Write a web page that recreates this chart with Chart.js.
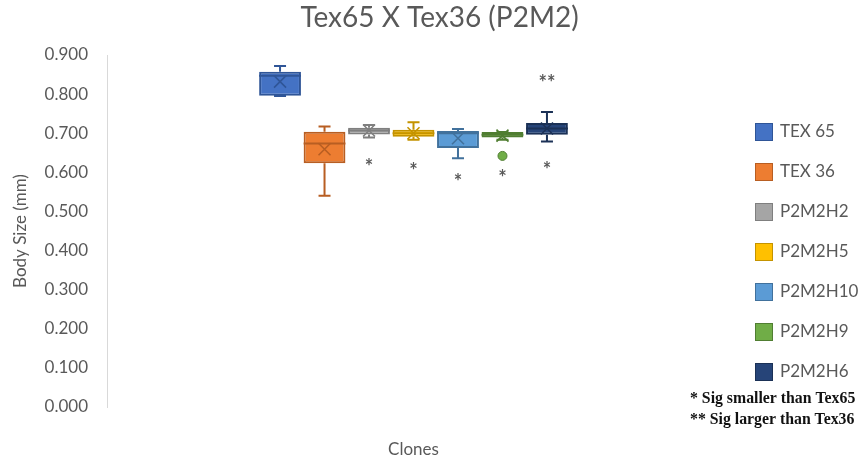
<!DOCTYPE html>
<html>
<head>
<meta charset="utf-8">
<script src="https://cdn.jsdelivr.net/npm/chart.js@4.4.0/dist/chart.umd.min.js"></script>
<style>
  html, body { margin: 0; padding: 0; background: #ffffff; }
  canvas { display: block; }
</style>
</head>
<body>
<canvas id="c" width="861" height="458"></canvas>
<script>
// Body size (mm) summary per clone
const clones      = ['TEX 65', 'TEX 36', 'P2M2H2', 'P2M2H5', 'P2M2H10', 'P2M2H9', 'P2M2H6'];
const whiskerLow  = [0.795, 0.540, 0.689, 0.683, 0.636, 0.683, 0.679];
const quartile1   = [0.796, 0.623, 0.697, 0.691, 0.662, 0.689, 0.696];
const medians     = [0.847, 0.674, 0.707, 0.700, 0.700, 0.696, 0.712];
const quartile3   = [0.857, 0.704, 0.714, 0.709, 0.706, 0.703, 0.726];
const whiskerHigh = [0.872, 0.717, 0.721, 0.728, 0.711, 0.703, 0.754];
const means       = [0.832, 0.659, 0.707, 0.700, 0.687, 0.694, 0.712];
const outliers    = [[], [], [], [], [], [0.642], []];
// significance annotations and the body-size level each one is written at
const sigBelow      = ['', '', '*', '*', '*', '*', '*'];
const sigBelowLevel = [null, null, 0.624, 0.614, 0.586, 0.598, 0.616];
const sigAbove      = ['', '', '', '', '', '', '**'];
const sigAboveLevel = [null, null, null, null, null, null, 0.840];
const yTickValues = [0, 0.1, 0.2, 0.3, 0.4, 0.5, 0.6, 0.7, 0.8, 0.9];
const chartTitle  = 'Tex65 X Tex36 (P2M2)';
const footnotes   = ['* Sig smaller than Tex65', '** Sig larger than Tex36'];

const fills   = ['#4472C4', '#ED7D31', '#A5A5A5', '#FFC000', '#5B9BD5', '#70AD47', '#264478'];
const strokes = ['#2F5597', '#B85E22', '#7F7F7F', '#C49300', '#41719C', '#507E32', '#1B3156'];
const textGrey = '#595959';
const FONT = 'Lato, "Open Sans", sans-serif';

const datasets = clones.map((name, i) => ({
  label: name,
  data: [[quartile1[i], quartile3[i]]],
  backgroundColor: fills[i],
  borderColor: strokes[i],
  borderWidth: 2,
  borderSkipped: false,
  categoryPercentage: 0.508,
  barPercentage: 0.94
}));

// Whiskers, medians, mean markers, outliers, significance marks, title, legend and footnotes
const boxExtras = {
  id: 'boxExtras',
  afterDatasetsDraw(chart) {
    const ctx = chart.ctx;
    const y = chart.scales.y;
    ctx.save();
    clones.forEach((name, i) => {
      const bar = chart.getDatasetMeta(i).data[0];
      const x = bar.x, w = bar.width;
      const cap = 6;
      ctx.strokeStyle = strokes[i];
      ctx.lineWidth = 2;
      ctx.beginPath();
      // median
      ctx.moveTo(x - w / 2, y.getPixelForValue(medians[i]));
      ctx.lineTo(x + w / 2, y.getPixelForValue(medians[i]));
      // upper whisker
      ctx.moveTo(x, y.getPixelForValue(quartile3[i]));
      ctx.lineTo(x, y.getPixelForValue(whiskerHigh[i]));
      ctx.moveTo(x - cap, y.getPixelForValue(whiskerHigh[i]));
      ctx.lineTo(x + cap, y.getPixelForValue(whiskerHigh[i]));
      // lower whisker
      ctx.moveTo(x, y.getPixelForValue(quartile1[i]));
      ctx.lineTo(x, y.getPixelForValue(whiskerLow[i]));
      ctx.moveTo(x - cap, y.getPixelForValue(whiskerLow[i]));
      ctx.lineTo(x + cap, y.getPixelForValue(whiskerLow[i]));
      ctx.stroke();
      // mean marker (x)
      const my = y.getPixelForValue(means[i]);
      const m = 6;
      ctx.lineWidth = 1.6;
      ctx.beginPath();
      ctx.moveTo(x - m, my - m); ctx.lineTo(x + m, my + m);
      ctx.moveTo(x + m, my - m); ctx.lineTo(x - m, my + m);
      ctx.stroke();
      // outliers
      outliers[i].forEach(v => {
        ctx.beginPath();
        ctx.arc(x, y.getPixelForValue(v), 4.5, 0, Math.PI * 2);
        ctx.fillStyle = fills[i];
        ctx.fill();
        ctx.lineWidth = 1;
        ctx.stroke();
      });
      // significance marks (asterisk glyph sits high in the em box)
      const fs = 20;
      ctx.fillStyle = textGrey;
      ctx.font = 'bold ' + fs + 'px ' + FONT;
      ctx.textAlign = 'center';
      ctx.textBaseline = 'alphabetic';
      if (sigBelow[i]) ctx.fillText(sigBelow[i], x, y.getPixelForValue(sigBelowLevel[i]) + 0.57 * fs);
      if (sigAbove[i]) ctx.fillText(sigAbove[i], x, y.getPixelForValue(sigAboveLevel[i]) + 0.57 * fs);
    });
    ctx.restore();
  },
  afterDraw(chart) {
    const ctx = chart.ctx;
    const area = chart.chartArea;
    ctx.save();
    // title
    ctx.fillStyle = textGrey;
    ctx.font = '28px ' + FONT;
    ctx.textAlign = 'center';
    ctx.textBaseline = 'middle';
    ctx.fillText(chartTitle, chart.width / 2 + 9, 18);
    // legend
    const lx = area.right + 35;
    const ly = area.top + 77;
    clones.forEach((name, i) => {
      const cy = ly + i * 40;
      ctx.fillStyle = fills[i];
      ctx.fillRect(lx, cy - 9, 18, 18);
      ctx.strokeStyle = strokes[i];
      ctx.lineWidth = 1;
      ctx.strokeRect(lx + 0.5, cy - 8.5, 17, 17);
      ctx.fillStyle = textGrey;
      ctx.font = '17px ' + FONT;
      ctx.textAlign = 'left';
      ctx.textBaseline = 'middle';
      ctx.fillText(name, lx + 25, cy);
    });
    // footnotes
    ctx.fillStyle = '#111111';
    ctx.font = 'bold 15.8px "Liberation Serif", "Times New Roman", serif';
    ctx.textAlign = 'left';
    ctx.textBaseline = 'middle';
    footnotes.forEach((t, k) => ctx.fillText(t, area.right - 30, area.bottom - 8 + k * 21));
    ctx.restore();
  }
};

new Chart(document.getElementById('c'), {
  type: 'bar',
  data: { labels: ['Clones'], datasets },
  plugins: [boxExtras],
  options: {
    responsive: false,
    animation: false,
    layout: { padding: { left: 0, right: 141, top: 55, bottom: 0 } },
    plugins: {
      legend: { display: false },
      tooltip: { enabled: false },
      title: { display: false }
    },
    scales: {
      x: {
        grid: { display: false },
        border: { display: false },
        ticks: { display: false },
        title: {
          display: true,
          text: 'Clones',
          color: textGrey,
          font: { family: FONT, size: 17 },
          padding: { top: 0, bottom: -2 }
        },
        afterFit(scale) { scale.height = 51; }
      },
      y: {
        min: 0,
        max: 0.9,
        afterBuildTicks(scale) { scale.ticks = yTickValues.map(v => ({ value: v })); },
        ticks: {
          color: textGrey,
          font: { family: FONT, size: 17 },
          padding: 19,
          callback: v => Number(v).toFixed(3)
        },
        grid: { color: 'rgba(0,0,0,0)', drawTicks: false },
        border: { display: true, color: '#D9D9D9', width: 1 },
        title: {
          display: true,
          text: 'Body Size (mm)',
          color: textGrey,
          font: { family: FONT, size: 17 },
          padding: { top: 10, bottom: 0 }
        },
        afterFit(scale) { scale.width = 107; }
      }
    }
  }
});
</script>
</body>
</html>
